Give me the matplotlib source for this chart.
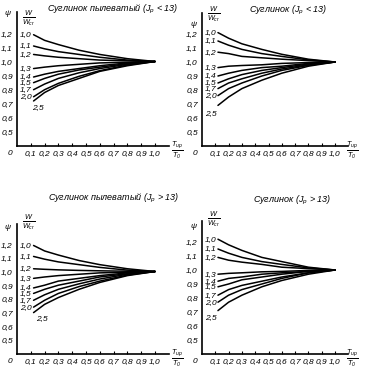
# Кривые psi = f(T_ир / T_0) для четырёх групп грунтов

import matplotlib
matplotlib.use('Agg')
import matplotlib.pyplot as plt

plt.rcParams['font.family'] = ['Liberation Sans', 'DejaVu Sans']
plt.rcParams['font.style'] = 'italic'
plt.rcParams['mathtext.fontset'] = 'custom'
plt.rcParams['mathtext.rm'] = 'Liberation Sans'
plt.rcParams['mathtext.it'] = 'Liberation Sans:italic'

# Общие данные
x_rel = [0.12, 0.2, 0.3, 0.45, 0.6, 0.8, 1.0]
w_labels = ['1,0', '1,1', '1,2', '1,3', '1,4', '1,5', '1,7', '2,0', '2,5']

titles = ['Суглинок пылеватый (J$_p$ < 13)',
          'Суглинок (J$_p$ < 13)',
          'Суглинок пылеватый (J$_p$ > 13)',
          'Суглинок (J$_p$ > 13)']

# psi для каждого W/Wcr (строки) в точках x_rel
psi_tl = [[1.19, 1.15, 1.12, 1.08, 1.05, 1.02, 1.00],
          [1.11, 1.09, 1.07, 1.05, 1.03, 1.01, 1.00],
          [1.05, 1.04, 1.03, 1.02, 1.01, 1.005, 1.00],
          [0.95, 0.96, 0.97, 0.98, 0.99, 0.995, 1.00],
          [0.89, 0.91, 0.93, 0.95, 0.97, 0.99, 1.00],
          [0.85, 0.88, 0.91, 0.94, 0.96, 0.985, 1.00],
          [0.80, 0.84, 0.88, 0.92, 0.95, 0.98, 1.00],
          [0.75, 0.80, 0.845, 0.895, 0.935, 0.975, 1.00],
          [0.72, 0.78, 0.83, 0.88, 0.93, 0.97, 1.00]]

psi_tr = [[1.21, 1.17, 1.13, 1.09, 1.055, 1.02, 1.00],
          [1.15, 1.12, 1.09, 1.06, 1.04, 1.015, 1.00],
          [1.07, 1.06, 1.04, 1.03, 1.02, 1.01, 1.00],
          [0.96, 0.97, 0.975, 0.98, 0.99, 0.996, 1.00],
          [0.90, 0.92, 0.94, 0.96, 0.97, 0.99, 1.00],
          [0.85, 0.88, 0.91, 0.94, 0.96, 0.985, 1.00],
          [0.81, 0.85, 0.88, 0.92, 0.95, 0.98, 1.00],
          [0.76, 0.81, 0.85, 0.90, 0.94, 0.976, 1.00],
          [0.69, 0.75, 0.81, 0.87, 0.92, 0.97, 1.00]]

psi_bl = [[1.19, 1.15, 1.12, 1.08, 1.05, 1.02, 1.00],
          [1.11, 1.09, 1.07, 1.05, 1.03, 1.01, 1.00],
          [1.02, 1.016, 1.012, 1.008, 1.005, 1.002, 1.00],
          [0.95, 0.96, 0.97, 0.98, 0.99, 0.995, 1.00],
          [0.88, 0.90, 0.93, 0.95, 0.97, 0.99, 1.00],
          [0.84, 0.87, 0.90, 0.93, 0.96, 0.984, 1.00],
          [0.79, 0.83, 0.87, 0.91, 0.945, 0.98, 1.00],
          [0.74, 0.79, 0.84, 0.89, 0.93, 0.974, 1.00],
          [0.70, 0.76, 0.81, 0.87, 0.92, 0.97, 1.00]]

psi_br = [[1.22, 1.18, 1.14, 1.09, 1.06, 1.02, 1.00],
          [1.15, 1.12, 1.09, 1.06, 1.04, 1.015, 1.00],
          [1.09, 1.07, 1.056, 1.04, 1.02, 1.01, 1.00],
          [0.97, 0.976, 0.98, 0.987, 0.99, 0.997, 1.00],
          [0.92, 0.94, 0.95, 0.97, 0.98, 0.99, 1.00],
          [0.88, 0.90, 0.93, 0.95, 0.97, 0.99, 1.00],
          [0.82, 0.86, 0.89, 0.92, 0.95, 0.98, 1.00],
          [0.77, 0.82, 0.86, 0.90, 0.94, 0.98, 1.00],
          [0.71, 0.77, 0.82, 0.88, 0.925, 0.97, 1.00]]

panels = [psi_tl, psi_tr, psi_bl, psi_br]

x_ticks = [0.1, 0.2, 0.3, 0.4, 0.5, 0.6, 0.7, 0.8, 0.9, 1.0]
y_ticks = [0.5, 0.6, 0.7, 0.8, 0.9, 1.0, 1.1, 1.2]

W, H = 365, 380
fig = plt.figure(figsize=(W / 100, H / 100), dpi=100)

# пиксельная геометрия: x=0, px на 1.0 по x, y=1.0, px на 1.0 по y
geom = [(17, 138, 61.5, 141),
        (202, 133, 62, 140),
        (17, 138, 271.5, 137),
        (202, 133, 270, 140)]
title_pos = [(0.69, 1.37), (0.65, 1.37), (0.70, 1.53), (0.68, 1.50)]
head_y = [1.31, 1.34, 1.36, 1.36]
psi_y = [1.34, 1.27, 1.32, 1.31]
xlab_x = [1.16, 1.13, 1.16, 1.13]
lab25 = [(0.15, -0.05), (0.07, -0.06), (0.18, -0.04), (0.07, -0.05)]

XMAX, YMIN, YMAX = 1.1, 0.40, 1.35

def fmt(v):
    return ('%.1f' % v).replace('.', ',')

for k, psi in enumerate(panels):
    x0, sx, y1, sy = geom[k]
    left = x0 / W
    width = XMAX * sx / W
    bottom_px = y1 + (1.0 - YMIN) * sy
    top_px = y1 - (YMAX - 1.0) * sy
    ax = fig.add_axes([left, 1 - bottom_px / H, width, (bottom_px - top_px) / H])
    ax.set_xlim(0, XMAX)
    ax.set_ylim(YMIN, YMAX)
    for s in ['top', 'right']:
        ax.spines[s].set_visible(False)
    ax.spines['left'].set_linewidth(1.2)
    ax.spines['bottom'].set_linewidth(1.2)

    for i, row in enumerate(psi):
        ax.plot(x_rel, row, color='black', lw=1.1, solid_capstyle='round')
        if i < len(psi) - 1:
            ax.text(0.065, row[0], w_labels[i], fontsize=6, ha='center', va='center')
        else:
            dx, dy = lab25[k]
            ax.text(dx, row[0] + dy, w_labels[i], fontsize=6, ha='center', va='center')

    ax.set_xticks(x_ticks)
    ax.set_xticklabels([fmt(v) for v in x_ticks], fontsize=6)
    ax.set_yticks(y_ticks)
    ax.set_yticklabels([fmt(v) for v in y_ticks], fontsize=6)
    ax.tick_params(axis='x', direction='in', length=2, width=0.8, pad=3)
    ax.tick_params(axis='y', length=0, pad=3)

    ax.text(-0.035, YMIN - 0.055, '0', fontsize=6, ha='right', va='center', clip_on=False)
    ax.text(-0.065, psi_y[k], 'ψ', fontsize=6, ha='center', va='center', clip_on=False)
    ax.text(0.085, head_y[k], r'$\frac{W}{W_{cr}}$', fontsize=7.5, ha='center', va='center', clip_on=False)
    ax.text(xlab_x[k], YMIN - 0.03, r'$\frac{T_{ир}}{T_0}$', fontsize=7.5, ha='center', va='center', clip_on=False)
    tx, ty = title_pos[k]
    ax.text(tx, ty, titles[k], fontsize=6.5, ha='center', va='center', clip_on=False)

plt.savefig('out.png', dpi=100)
